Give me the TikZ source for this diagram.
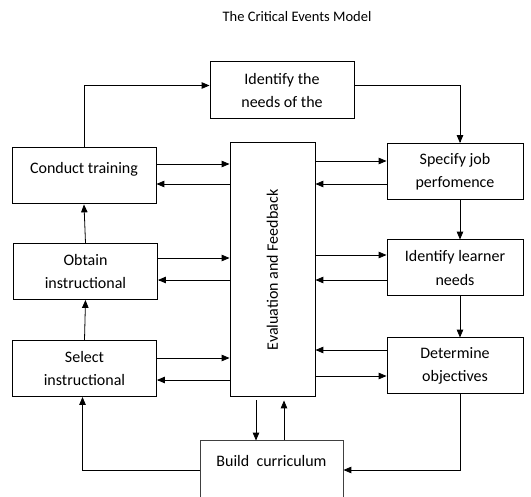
\documentclass[tikz,border=0pt]{standalone}
\usepackage{fontspec}
\setmainfont{Carlito}
\usetikzlibrary{arrows}

\tikzset{
  box/.style={draw,line width=1pt,align=center,inner sep=0pt,
    font=\fontsize{16}{23.5}\selectfont},
  lbox/.style={minimum width=144pt,minimum height=56pt},
  rbox/.style={minimum width=136pt,minimum height=56pt},
  raised/.style={text depth=#1},
  link/.style={->,line width=0.8pt}
}

\begin{document}
\begin{tikzpicture}[>=triangle 45,x=1pt,y=-1pt]
\useasboundingbox (0,0) rectangle (531,497);

\node[font=\fontsize{14.5}{16}\selectfont] (title) at (297,17) {The Critical Events Model};

% boxes
\node[box,minimum width=144pt,minimum height=57pt] (needs) at (282,90.5) {Identify the\\needs of the};
\node[box,lbox,raised=17pt] (conduct) at (84,176) {Conduct training};
\node[box,lbox] (obtain) at (85.5,271.5) {Obtain\\instructional};
\node[box,lbox] (select) at (84.5,368.5) {Select\\instructional};
\node[box,minimum width=85pt,minimum height=254pt] (eval) at (272.5,270) {\rotatebox{90}{Evaluation and Feedback}};
\node[box,rbox] (specify) at (455,171.5) {Specify job\\perfomence};
\node[box,rbox] (learner) at (455,268) {Identify learner\\needs};
\node[box,rbox] (objectives) at (455,366) {Determine\\objectives};
\node[box,draw=black!75,minimum width=143pt,minimum height=60pt,raised=21pt] (build) at (271.5,471) {Build\ \ curriculum};

% outer loop
\draw[link] (conduct.north) |- ([yshift=5pt]needs.west);
\draw[link] ([yshift=5pt]needs.east) -| ([xshift=5pt]specify.north);
\draw[link] ([xshift=5pt]specify.south) -- ([xshift=5pt]learner.north);
\draw[link] ([xshift=5pt]learner.south) -- ([xshift=5pt]objectives.north);
\draw[link] ([xshift=5pt]objectives.south) |- (build.east |- 0,470);
\draw[link] (build.west |- 0,470) -| ([xshift=-2pt]select.south);
\draw[link] (select.north) -- (obtain.south);
\draw[link] (obtain.north) -- (conduct.south);

% to and from evaluation
\foreach \blk/\yin/\yout in {conduct/164/184,obtain/258/280,select/358/380}{
  \draw[link] (\blk.east |- 0,\yin) -- (eval.west |- 0,\yin);
  \draw[link] (eval.west |- 0,\yout) -- (\blk.east |- 0,\yout);
}
\foreach \blk/\yin/\yout in {specify/184/161,learner/280/255,objectives/350/376}{
  \draw[link] (\blk.west |- 0,\yin) -- (eval.east |- 0,\yin);
  \draw[link] (eval.east |- 0,\yout) -- (\blk.west |- 0,\yout);
}
\draw[link,shorten <=3pt] (eval.south -| 256,0) -- (build.north -| 256,0);
\draw[link,shorten >=3pt] (build.north -| 284,0) -- (eval.south -| 284,0);
\end{tikzpicture}
\end{document}
